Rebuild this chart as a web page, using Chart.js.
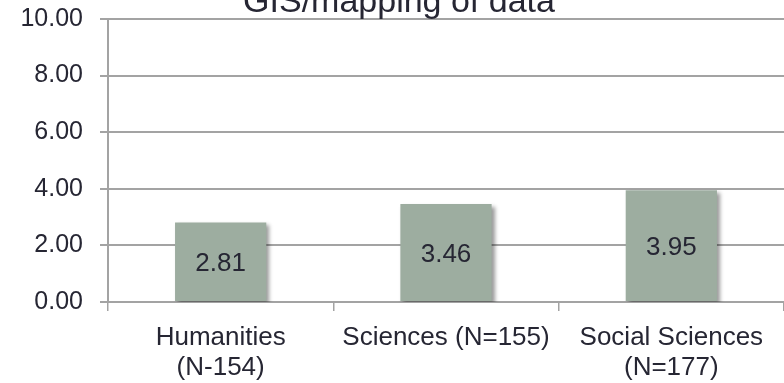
<!DOCTYPE html>
<html>
<head>
<meta charset="utf-8">
<script src="https://cdn.jsdelivr.net/npm/chart.js@4/dist/chart.umd.min.js"></script>
<style>
  html, body { margin: 0; padding: 0; background: #fff; }
  #wrap { width: 784px; height: 383px; position: relative; }
</style>
</head>
<body>
<div id="wrap"><canvas id="chart"></canvas></div>
<script>
// chart data
const titleText = 'GIS/mapping of data';
const categories = [['Humanities', '(N-154)'], 'Sciences (N=155)', ['Social Sciences', '(N=177)']];
const meanScores = [2.81, 3.46, 3.95];
const yMin = 0, yMax = 10, yStep = 2;

const FONT = '"Liberation Sans", Arial, sans-serif';
const INK = '#262633';
const GRID = '#a3a3a3';

// bar fill: soft diagonal grey-green gradient
const barFill = (context) => {
  const bar = context.element;
  const ctx = context.chart.ctx;
  if (!bar || bar.width === undefined || isNaN(bar.y)) return '#9dada0';
  const left = bar.x - bar.width / 2, right = bar.x + bar.width / 2;
  const g = ctx.createLinearGradient(left, bar.y, right, bar.base);
  g.addColorStop(0, '#a7b5a9');
  g.addColorStop(0.55, '#a0aea2');
  g.addColorStop(1, '#879889');
  return g;
};

// drop shadow under the bars
const barShadow = {
  id: 'barShadow',
  beforeDatasetsDraw(chart) {
    const ctx = chart.ctx;
    ctx.save();
    ctx.shadowColor = 'rgba(0,0,0,0.4)';
    ctx.shadowBlur = 4;
    ctx.shadowOffsetX = 3;
    ctx.shadowOffsetY = 3;
  },
  afterDatasetsDraw(chart) {
    chart.ctx.restore();
  }
};

// value labels centred in each bar
const valueLabels = {
  id: 'valueLabels',
  afterDatasetsDraw(chart) {
    const ctx = chart.ctx;
    const meta = chart.getDatasetMeta(0);
    ctx.save();
    ctx.font = '26px ' + FONT;
    ctx.fillStyle = INK;
    ctx.textAlign = 'center';
    ctx.textBaseline = 'middle';
    meta.data.forEach((bar, i) => {
      const mid = (bar.y + bar.base) / 2;
      ctx.fillText(meanScores[i].toFixed(2), bar.x, mid + 2);
    });
    ctx.restore();
  }
};

// title sits partly above the canvas edge, as in the source
const cutTitle = {
  id: 'cutTitle',
  afterDraw(chart) {
    const ctx = chart.ctx;
    ctx.save();
    ctx.font = '34px ' + FONT;
    ctx.fillStyle = INK;
    ctx.textAlign = 'center';
    ctx.textBaseline = 'alphabetic';
    ctx.fillText(titleText, 399, 12);
    ctx.restore();
  }
};

new Chart(document.getElementById('chart'), {
  type: 'bar',
  data: {
    labels: categories,
    datasets: [{
      data: meanScores,
      backgroundColor: barFill,
      borderWidth: 0,
      categoryPercentage: 1,
      barPercentage: 0.405
    }]
  },
  options: {
    responsive: true,
    maintainAspectRatio: false,
    animation: false,
    layout: { padding: { top: 19, right: 0, left: 0, bottom: 0 } },
    plugins: {
      legend: { display: false },
      tooltip: { enabled: false }
    },
    scales: {
      x: {
        grid: {
          offset: true,
          drawOnChartArea: false,
          drawTicks: true,
          tickLength: 9,
          color: GRID,
          lineWidth: 1.5
        },
        border: { color: GRID, width: 2 },
        ticks: {
          color: INK,
          font: { family: FONT, size: 26, lineHeight: 1.15 },
          padding: 12,
          maxRotation: 0,
          autoSkip: false
        },
        afterFit(scale) { scale.height = 81; }
      },
      y: {
        min: yMin,
        max: yMax,
        ticks: {
          stepSize: yStep,
          color: INK,
          font: { family: FONT, size: 25 },
          padding: 17,
          callback: (v) => Number(v).toFixed(2)
        },
        grid: {
          color: GRID,
          lineWidth: 2,
          tickLength: 8
        },
        border: { color: GRID, width: 2 },
        afterFit(scale) {
          scale.width = 108;
          scale.paddingTop = 0;
          scale.paddingBottom = 0;
        }
      }
    }
  },
  plugins: [barShadow, valueLabels, cutTitle]
});
</script>
</body>
</html>
